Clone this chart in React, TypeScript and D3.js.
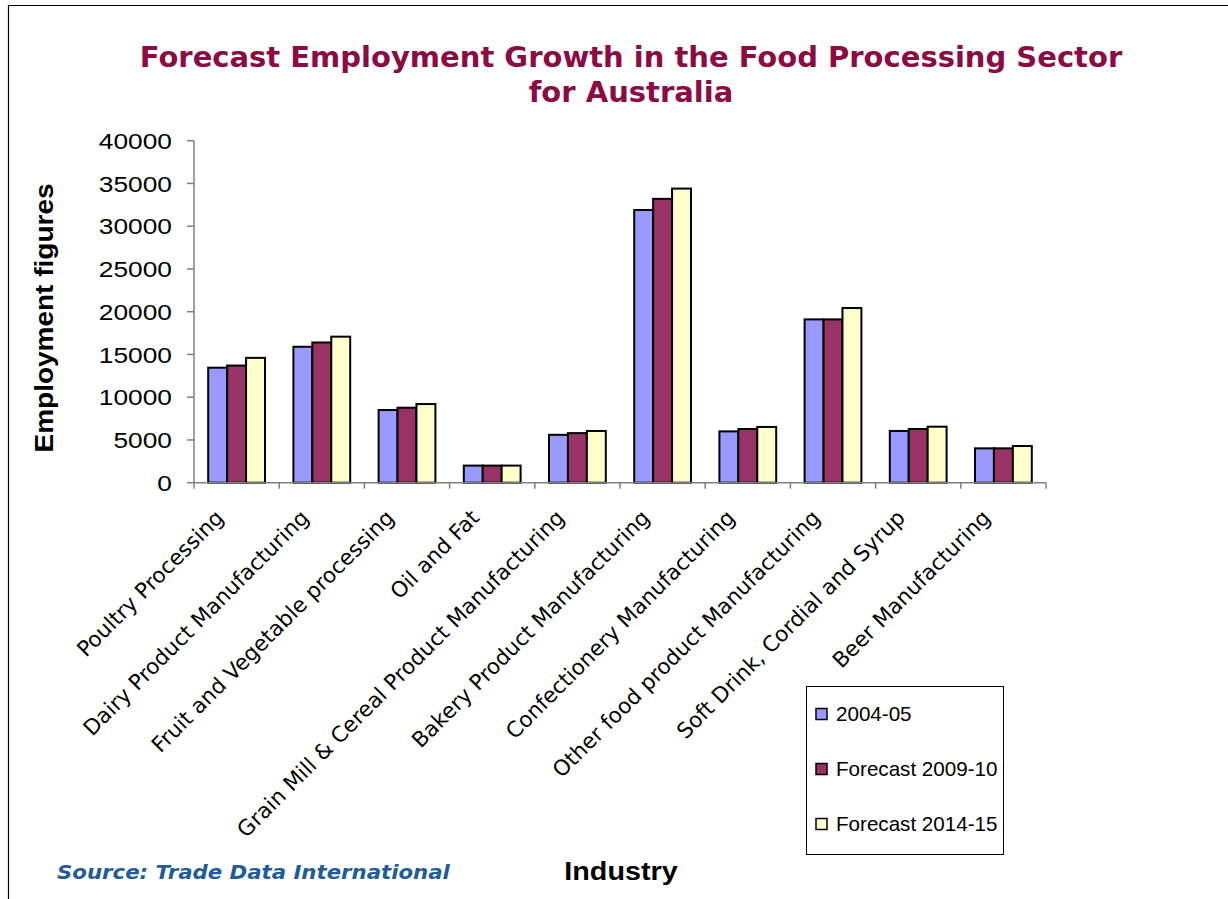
import React from "react";
import * as d3 from "d3";

const categories = [
  "Poultry Processing",
  "Dairy Product Manufacturing",
  "Fruit and Vegetable processing",
  "Oil and Fat",
  "Grain Mill & Cereal Product Manufacturing",
  "Bakery Product Manufacturing",
  "Confectionery Manufacturing",
  "Other food product Manufacturing",
  "Soft Drink, Cordial and Syrup",
  "Beer Manufacturing",
];
const seriesNames = ["2004-05", "Forecast 2009-10", "Forecast 2014-15"];
const values2004 = [13450, 15900, 8500, 2000, 5600, 31900, 6000, 19100, 6050, 4020];
const values2009 = [13700, 16400, 8770, 2000, 5800, 33200, 6280, 19100, 6280, 4020];
const values2014 = [14600, 17080, 9200, 2000, 6050, 34400, 6520, 20430, 6550, 4290];
const yTicks = [0, 5000, 10000, 15000, 20000, 25000, 30000, 35000, 40000];
const colors = ["#9999FF", "#993366", "#FFFFCC"];

export default function App() {
  const W = 1228, H = 899;
  const left = 194, right = 1046, top = 140.7, bottom = 482.7;
  const allSeries = [values2004, values2009, values2014];

  const x0 = d3.scaleBand<string>().domain(categories).range([left, right]).padding(0);
  const x1 = d3.scaleBand<string>().domain(seriesNames).range([0, x0.bandwidth()]).paddingInner(0).paddingOuter(0.75);
  const y = d3.scaleLinear().domain([0, 40000]).range([bottom, top]);

  const catEdges = categories.map((c) => x0(c)!).concat([right]);

  return (
    <div style={{ position: "absolute", left: 0, top: 0 }}>
      <svg width={W} height={H} style={{ display: "block", background: "#fff" }}>
        {/* outer frame */}
        <line x1={8} y1={5.5} x2={W} y2={5.5} stroke="#000" strokeWidth={1.2} />
        <line x1={8.5} y1={5} x2={8.5} y2={H} stroke="#000" strokeWidth={1.2} />

        {/* title */}
        <text x={631} y={67} textAnchor="middle" fontFamily="DejaVu Sans" fontWeight="bold" fontSize={29} fill="#8C0B45">
          Forecast Employment Growth in the Food Processing Sector
        </text>
        <text x={631} y={102} textAnchor="middle" fontFamily="DejaVu Sans" fontWeight="bold" fontSize={29} fill="#8C0B45">
          for Australia
        </text>

        {/* bars */}
        {allSeries.map((vals, si) =>
          categories.map((c, ci) => (
            <rect
              key={`${si}-${ci}`}
              x={x0(c)! + x1(seriesNames[si])!}
              y={y(vals[ci])}
              width={x1.bandwidth()}
              height={bottom - y(vals[ci])}
              fill={colors[si]}
              stroke="#000"
              strokeWidth={2}
            />
          ))
        )}

        {/* y axis */}
        <line x1={left} y1={top} x2={left} y2={bottom} stroke="#808080" strokeWidth={1.5} />
        {yTicks.map((t) => (
          <g key={t}>
            <line x1={left - 7} y1={y(t)} x2={left} y2={y(t)} stroke="#808080" strokeWidth={1.5} />
            <text
              transform={`translate(172,${y(t)}) scale(1.17,1)`}
              dy="0.36em"
              textAnchor="end"
              fontFamily="Liberation Sans, Arial"
              fontSize={22.5}
              fill="#000"
            >
              {t}
            </text>
          </g>
        ))}

        {/* x axis */}
        <line x1={left} y1={bottom} x2={right} y2={bottom} stroke="#808080" strokeWidth={1.5} />
        {catEdges.map((e, i) => (
          <line key={i} x1={e} y1={bottom} x2={e} y2={bottom + 6} stroke="#808080" strokeWidth={1.5} />
        ))}
        {categories.map((c) => {
          const cx = x0(c)! + x0.bandwidth() / 2;
          return (
            <text
              key={c}
              transform={`translate(${cx - 17},${bottom + 31}) rotate(-45)`}
              textAnchor="end"
              dy="0.35em"
              fontFamily="DejaVu Sans, Verdana"
              fontSize={21.5}
              fill="#000"
            >
              {c}
            </text>
          );
        })}

        {/* axis titles */}
        <text transform="translate(53,318) rotate(-90) scale(1.12,1)" textAnchor="middle" fontFamily="Liberation Sans, Arial" fontWeight="bold" fontSize={25} fill="#000">
          Employment figures
        </text>
        <text transform="translate(621,880) scale(1.15,1)" textAnchor="middle" fontFamily="Liberation Sans, Arial" fontWeight="bold" fontSize={25} fill="#000">
          Industry
        </text>

        {/* source */}
        <text transform="translate(57,879) scale(1.12,1)" fontFamily="DejaVu Sans, Verdana" fontWeight="bold" fontStyle="italic" fontSize={19} fill="#1F5C99">
          Source: Trade Data International
        </text>

        {/* legend */}
        <rect x={806.5} y={686.5} width={197} height={168} fill="#fff" stroke="#000" strokeWidth={1} />
        {seriesNames.map((s, i) => {
          const ly = 714 + i * 55;
          return (
            <g key={s}>
              <rect x={816} y={ly - 5.5} width={11} height={11} fill={colors[i]} stroke="#000" strokeWidth={1.5} />
              <text x={836} y={ly} dy="0.36em" fontFamily="Liberation Sans, Arial" fontSize={20.6} fill="#000">
                {s}
              </text>
            </g>
          );
        })}
      </svg>
    </div>
  );
}
